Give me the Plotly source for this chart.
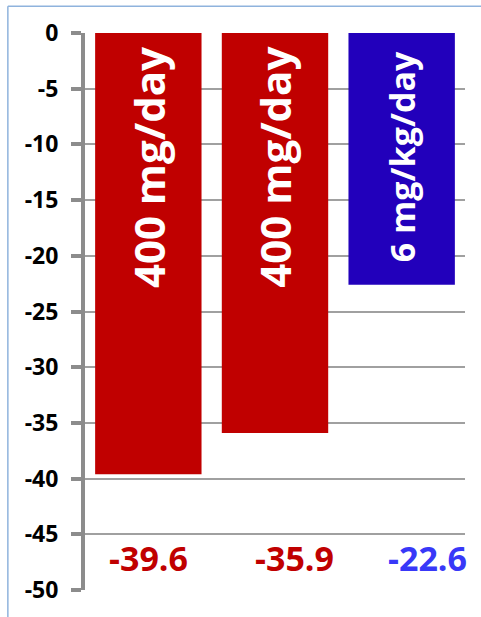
import plotly.graph_objects as go

# Data
categories = ["A", "B", "C"]
values = [-39.6, -35.9, -22.6]
bar_labels = ["400 mg/day", "400 mg/day", "6 mg/kg/day"]
bar_colors = ["#C00000", "#C00000", "#2200BB"]
value_colors = ["#C00000", "#C00000", "#3838F8"]
tick_vals = [0, -5, -10, -15, -20, -25, -30, -35, -40, -45, -50]

FONT = "'Open Sans', 'Noto Sans', sans-serif"

fig = go.Figure()
fig.add_trace(go.Bar(
    x=categories, y=values,
    marker=dict(color=bar_colors, line=dict(width=0)),
    width=0.84,
    hoverinfo="skip",
))

# Rotated dose labels inside bars
label_sizes = [42, 42, 34]
label_centres = [-12.1, -12.1, -11.1]
for cat, txt, sz, yc in zip(categories, bar_labels, label_sizes, label_centres):
    fig.add_annotation(x=cat, y=yc, text=f"<b>{txt}</b>", textangle=-90,
                       showarrow=False, font=dict(family=FONT, size=sz, color="white"))

# Value labels along the bottom (slightly staggered to the right)
label_shifts = [0, 19, 26]
for cat, v, col, dx in zip(categories, values, value_colors, label_shifts):
    fig.add_annotation(x=cat, y=-47.1, text=f"<b>{v}</b>", showarrow=False,
                       xshift=dx, font=dict(family=FONT, size=34, color=col))

# Light blue frame
frame = dict(type="line", xref="paper", yref="paper",
             line=dict(color="#8FB3DD", width=1.5))
fig.add_shape(**frame, x0=-0.203, x1=-0.203, y0=-0.1, y1=1.048)
fig.add_shape(**frame, x0=-0.203, x1=1.1, y0=1.048, y1=1.048)

fig.update_layout(
    width=481, height=617,
    margin=dict(l=85, r=16, t=33, b=22),
    paper_bgcolor="white", plot_bgcolor="white",
    showlegend=False,
    xaxis=dict(showticklabels=False, showgrid=False, zeroline=False,
               showline=False, ticks="", range=[-0.5, 2.5]),
    yaxis=dict(range=[-50, 0], tickvals=tick_vals,
               ticktext=[f"<b>{t}</b>" for t in tick_vals],
               tickfont=dict(family=FONT, size=23, color="black"),
               showgrid=True, gridcolor="#A0A0A0", gridwidth=1.5,
               zeroline=False,
               showline=True, linecolor="#8C8C8C", linewidth=4,
               ticks="outside", ticklen=10, tickwidth=4, tickcolor="#8C8C8C",
               ticklabelstandoff=8),
)

fig.write_html("out.html")
